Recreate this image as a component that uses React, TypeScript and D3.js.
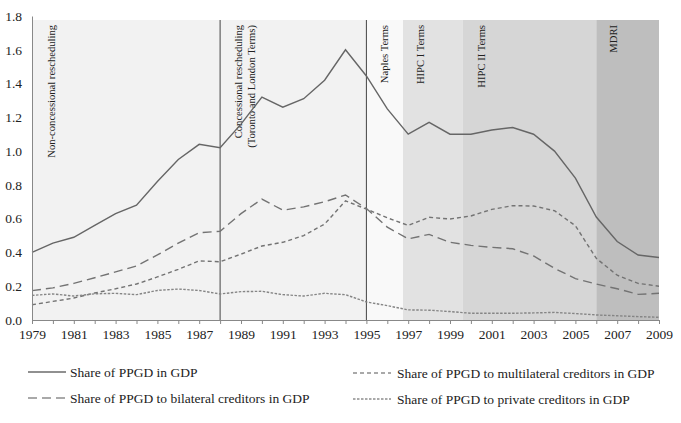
import { useRef, useEffect } from 'react';
import * as d3 from 'd3';

// PPGD shares of GDP, 1979-2009
const years = d3.range(1979, 2010);
const totalShare = [0.40, 0.455, 0.49, 0.56, 0.63, 0.68, 0.82, 0.95, 1.04, 1.02, 1.16, 1.32, 1.26, 1.31, 1.42, 1.60, 1.445, 1.25, 1.10, 1.17, 1.10, 1.10, 1.125, 1.14, 1.10, 1.00, 0.84, 0.61, 0.465, 0.385, 0.37];
const multilateralShare = [0.09, 0.11, 0.13, 0.16, 0.185, 0.213, 0.255, 0.30, 0.35, 0.345, 0.39, 0.438, 0.46, 0.50, 0.568, 0.705, 0.657, 0.605, 0.56, 0.608, 0.598, 0.616, 0.655, 0.677, 0.675, 0.647, 0.558, 0.365, 0.265, 0.217, 0.20];
const bilateralShare = [0.174, 0.19, 0.217, 0.25, 0.285, 0.32, 0.385, 0.455, 0.517, 0.525, 0.63, 0.716, 0.65, 0.67, 0.70, 0.74, 0.66, 0.55, 0.48, 0.507, 0.46, 0.442, 0.43, 0.422, 0.379, 0.306, 0.245, 0.213, 0.185, 0.152, 0.158];
const privateShare = [0.146, 0.154, 0.142, 0.155, 0.158, 0.15, 0.175, 0.183, 0.175, 0.154, 0.168, 0.17, 0.15, 0.142, 0.158, 0.15, 0.107, 0.085, 0.06, 0.058, 0.05, 0.04, 0.04, 0.04, 0.042, 0.045, 0.038, 0.03, 0.025, 0.02, 0.016];

// policy periods (start year) and their shading
const eraStarts = [1979, 1995, 1996.75, 1999.6, 2006];
const eraFills = ['#f2f2f2', '#f9f9f9', '#e2e2e2', '#d6d6d6', '#bebebe'];
const eraLines = [1988, 1995];

const eraLabels = [
  { year: 1979.9, lines: ['Non-concessional rescheduling'] },
  { year: 1988.85, lines: ['Concessional rescheduling', '(Toronto and London Terms)'] },
  { year: 1995.85, lines: ['Naples Terms'] },
  { year: 1997.6, lines: ['HIPC I  Terms'] },
  { year: 2000.5, lines: ['HIPC II Terms'] },
  { year: 2006.8, lines: ['MDRI'] },
];

const seriesNames = [
  'Share of PPGD in GDP',
  'Share of PPGD to multilateral creditors in GDP',
  'Share of PPGD to bilateral creditors in GDP',
  'Share of PPGD to private creditors in GDP',
];
const seriesValues = [totalShare, multilateralShare, bilateralShare, privateShare];
const seriesDash = [null, '4,3', '9,5', '2.5,1.5'];
const seriesColor = ['#666', '#737373', '#737373', '#858585'];

const yTicks = d3.range(0, 1.81, 0.2);

export default function App() {
  const svgRef = useRef(null);

  useEffect(() => {
    const svg = d3.select(svgRef.current);
    svg.selectAll('*').remove();

    const width = 681;
    const height = 423;
    const left = 32, right = 659, top = 20, bottom = 320;
    const font = '"Liberation Serif", "Times New Roman", serif';

    const x = d3.scaleLinear().domain([1979, 2009]).range([left, right]);
    const y = d3.scaleLinear().domain([0, 1.8]).range([bottom, 16]);

    svg.attr('width', width).attr('height', height);
    svg.append('rect').attr('width', width).attr('height', height).attr('fill', '#fff');

    // shaded periods
    svg.append('g').selectAll('rect')
      .data(eraStarts)
      .enter()
      .append('rect')
      .attr('x', d => x(d))
      .attr('y', top)
      .attr('width', (d, i) => x(i < eraStarts.length - 1 ? eraStarts[i + 1] : 2009) - x(d))
      .attr('height', bottom - top)
      .attr('fill', (d, i) => eraFills[i]);

    svg.append('g').selectAll('line')
      .data(eraLines)
      .enter()
      .append('line')
      .attr('x1', d => x(d)).attr('x2', d => x(d))
      .attr('y1', top).attr('y2', bottom)
      .attr('stroke', '#444')
      .attr('stroke-width', 1);

    // period labels, rotated
    const labels = svg.append('g')
      .attr('font-family', font)
      .attr('font-size', 10.6)
      .attr('fill', '#222');
    eraLabels.forEach(lab => {
      lab.lines.forEach((txt, j) => {
        const cx = x(lab.year) + j * 13;
        labels.append('text')
          .attr('transform', `translate(${cx},25) rotate(-90)`)
          .attr('text-anchor', 'end')
          .attr('dy', '0.35em')
          .text(txt);
      });
    });

    // series
    const line = d3.line()
      .x((d, i) => x(years[i]))
      .y(d => y(d));

    seriesValues.forEach((vals, k) => {
      svg.append('path')
        .datum(vals)
        .attr('d', line)
        .attr('fill', 'none')
        .attr('stroke', seriesColor[k])
        .attr('stroke-width', 1.4)
        .attr('stroke-dasharray', seriesDash[k]);
    });

    // axes
    const yAxis = svg.append('g')
      .attr('transform', `translate(${left},0)`)
      .call(d3.axisLeft(y).tickValues(yTicks).tickFormat(d3.format('.1f')).tickSize(0).tickPadding(10));
    yAxis.select('.domain').attr('stroke', '#888');
    yAxis.selectAll('text').attr('font-family', font).attr('font-size', 13.5).attr('fill', '#222');

    const xAxis = svg.append('g')
      .attr('transform', `translate(0,${bottom})`)
      .call(d3.axisBottom(x).tickValues(years).tickSize(4).tickPadding(5)
        .tickFormat(d => ((d - 1979) % 2 === 0 ? String(d) : '')));
    xAxis.select('.domain').attr('stroke', '#888');
    xAxis.selectAll('line').attr('stroke', '#888');
    xAxis.selectAll('text').attr('font-family', font).attr('font-size', 13.5).attr('fill', '#222');

    // legend
    const legend = svg.append('g').attr('font-family', font).attr('font-size', 13.5).attr('fill', '#222');
    const legendPos = [[28, 372], [353, 373], [28, 398], [353, 399]];
    seriesNames.forEach((name, k) => {
      const [lx, ly] = legendPos[k];
      legend.append('line')
        .attr('x1', lx).attr('x2', lx + 38)
        .attr('y1', ly).attr('y2', ly)
        .attr('stroke', k === 0 ? '#222' : '#555')
        .attr('stroke-width', 1.2)
        .attr('stroke-dasharray', seriesDash[k]);
      legend.append('text')
        .attr('x', lx + 42 + (k % 2) * 2)
        .attr('y', ly)
        .attr('dy', '0.35em')
        .text(name);
    });
  }, []);

  return (
    <svg ref={svgRef} style={{ position: 'absolute', left: 0, top: 0 }} />
  );
}
